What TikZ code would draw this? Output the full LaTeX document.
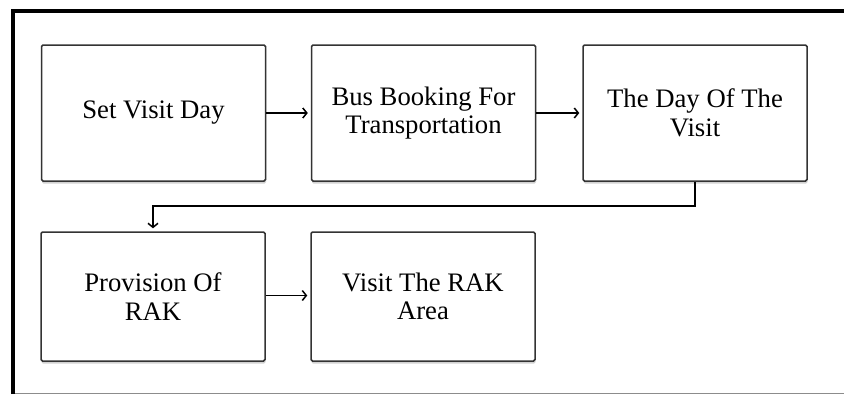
\documentclass[tikz,border=0pt]{standalone}
\usepackage{fontspec}
\setmainfont{Liberation Serif}
\usetikzlibrary{arrows.meta,shadows,positioning}
\begin{document}
\begin{tikzpicture}[x=1pt,y=-1pt,
  stepbox/.style={draw=black!80, line width=1.5pt, rounded corners=1.5pt,
    fill=white, align=center, inner sep=0pt,
    minimum width=224pt, minimum height=136pt,
    font=\fontsize{26.7}{28.5}\selectfont,
    drop shadow={opacity=0.35, shadow xshift=0.5pt, shadow yshift=-2.5pt}},
  lowbox/.style={stepbox, minimum height=129pt},
  flow/.style={line width=1.5pt, -{Straight Barb[length=4pt,width=10pt]}, shorten >=3pt}]
\useasboundingbox (0,0) rectangle (844,394);
\fill[white] (0,0) rectangle (844,394);

% page frame: heavy rules on top and left, light rule at the bottom
\draw[line width=1pt, black!45] (13,393) -- (844,393);
\draw[line width=4pt] (13,394) -- (13,11) -- (844,11);

% process steps
\node[stepbox] (visitday) at (153.5,113) {Set Visit Day};
\node[stepbox] (bus) at (423.5,113) {Bus Booking For\\Transportation};
\node[stepbox] (theday) at (695,113) {The Day Of The\\Visit};
\node[lowbox] (provision) at (153,296.5) {Provision Of\\RAK};
\node[lowbox] (visitarea) at (423,296.5) {Visit The RAK\\Area};

% flow between steps
\draw[flow] (visitday) -- (bus);
\draw[flow] (bus) -- (theday);
\coordinate (turn) at (695,206);
\draw[flow] (theday.south) -- (turn) -| (provision.north);
\draw[flow] (provision.east |- 0,295.5) -- (visitarea.west |- 0,295.5);
\end{tikzpicture}
\end{document}
